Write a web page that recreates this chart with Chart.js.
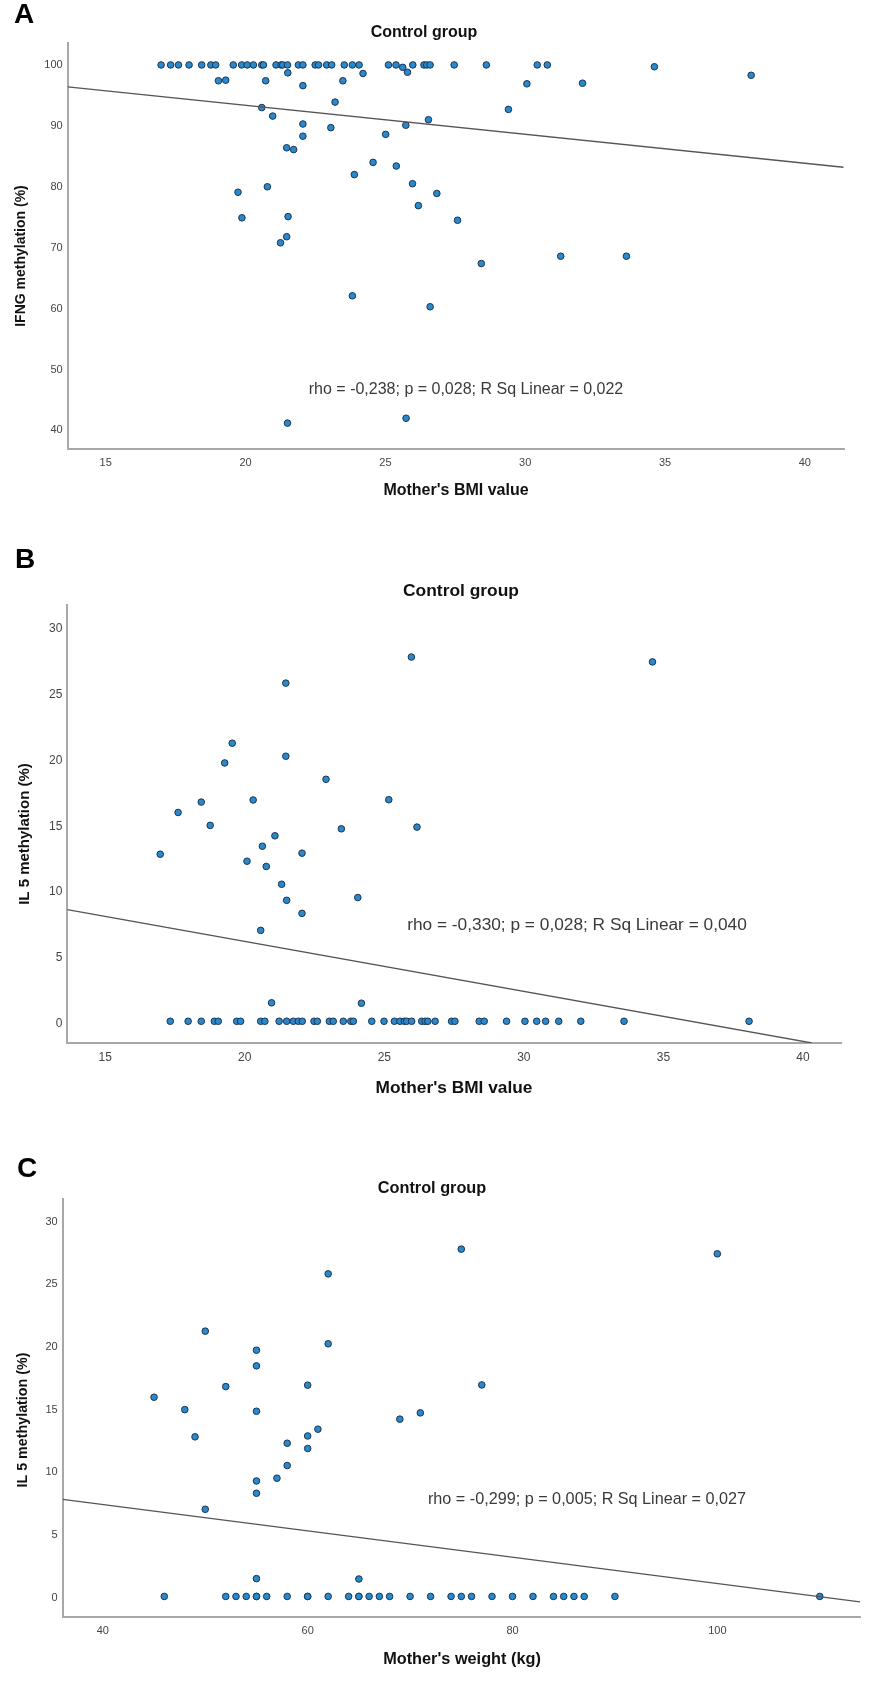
<!DOCTYPE html>
<html lang="en">

<head>
  <meta charset="UTF-8">
  <title>Control group - methylation vs mother's BMI / weight</title>
  <style>
    body {
      margin: 0;
      background: #ffffff;
      font-family: "Liberation Sans", Arial, sans-serif;
    }

    .panel {
      position: absolute;
      left: 0;
      width: 886px;
    }

    #panelA { top: 0; height: 520px; }
    #panelB { top: 520px; height: 580px; }
    #panelC { top: 1100px; height: 581px; }
  </style>
  <script src="https://cdn.jsdelivr.net/npm/chart.js"></script>
</head>

<body>
  <div class="panel" id="panelA"><canvas id="chartA"></canvas></div>
  <div class="panel" id="panelB"><canvas id="chartB"></canvas></div>
  <div class="panel" id="panelC"><canvas id="chartC"></canvas></div>

  <script>
    // ---- Panel A: IFNG methylation vs mother's BMI ----
    const bmiA = [
      16.98, 17.32, 17.60, 17.98, 18.43, 18.76, 18.93, 19.56, 19.86, 20.06, 20.28, 20.58,
      20.64, 21.09, 21.27, 21.33, 21.50, 21.89, 22.05, 22.49, 22.61, 22.90, 23.08, 23.53,
      23.82, 24.06, 25.11, 25.38, 25.98, 26.38, 26.48, 26.60, 27.46, 28.61, 30.43, 30.79,
      19.03, 19.29, 20.72, 21.51, 22.05, 23.20, 23.48, 24.20, 25.62, 25.79,
      20.58, 20.97, 22.05, 22.05, 23.05, 21.47, 21.72, 24.56, 23.89, 25.01, 25.39, 25.73,
      26.54, 25.97, 26.18, 26.84, 19.73, 20.78, 19.87, 21.52, 21.47, 21.25,
      29.40, 30.06, 32.05, 27.58, 34.62, 38.08, 23.82, 26.60, 28.43, 31.27, 33.62, 21.50, 25.74
    ];
    const ifngA = [
      100, 100, 100, 100, 100, 100, 100, 100, 100, 100, 100, 100,
      100, 100, 100, 100, 100, 100, 100, 100, 100, 100, 100, 100,
      100, 100, 100, 100, 100, 100, 100, 100, 100, 100, 100, 100,
      97.4, 97.5, 97.4, 98.7, 96.6, 93.9, 97.4, 98.6, 99.6, 98.8,
      93.0, 91.6, 90.3, 88.3, 89.7, 86.4, 86.1, 84.0, 82.0, 88.6, 83.4, 90.1,
      91.0, 80.5, 76.9, 78.9, 79.1, 80.0, 74.9, 75.1, 71.8, 70.8,
      92.7, 96.9, 97.0, 74.5, 99.7, 98.3, 62.1, 60.3, 67.4, 68.6, 68.6, 41.2, 42.0
    ];
    const fitBmiA = [13.64, 41.38];
    const fitIfngA = [96.4, 83.2];
    const bmiTicks = [15, 20, 25, 30, 35, 40];
    const ifngTicks = [40, 50, 60, 70, 80, 90, 100];

    // ---- Panel B: IL 5 methylation vs mother's BMI ----
    const bmiB = [
      25.97, 21.47, 19.55, 19.28, 21.47, 22.91, 25.16, 18.44, 20.30, 16.97, 17.61, 18.76,
      20.08, 20.63, 20.77, 21.08, 21.32, 21.50, 22.05, 22.05, 20.57, 23.46, 24.05, 26.17,
      20.96, 24.18, 34.61,
      17.33, 17.97, 18.44, 18.91, 19.05, 19.71, 19.85, 20.57, 20.72, 21.23, 21.50, 21.74,
      21.92, 22.06, 22.48, 22.60, 23.03, 23.17, 23.53, 23.80, 23.89, 24.55, 24.99, 25.36,
      25.56, 25.72, 25.80, 25.98, 26.34, 26.46, 26.56, 26.82, 27.41, 27.53, 28.40, 28.58,
      29.38, 30.04, 30.46, 30.78, 31.25, 32.04, 33.59, 38.07
    ];
    const il5B = [
      27.85, 25.87, 21.31, 19.81, 20.32, 18.57, 17.02, 16.84, 17.0, 12.88, 16.05, 15.07,
      12.35, 13.49, 11.95, 14.28, 10.6, 9.38, 12.96, 8.39, 7.1, 14.81, 9.59, 14.94,
      1.6, 1.57, 27.48,
      0.2, 0.2, 0.2, 0.2, 0.2, 0.2, 0.2, 0.2, 0.2, 0.2, 0.2, 0.2,
      0.2, 0.2, 0.2, 0.2, 0.2, 0.2, 0.2, 0.2, 0.2, 0.2, 0.2, 0.2,
      0.2, 0.2, 0.2, 0.2, 0.2, 0.2, 0.2, 0.2, 0.2, 0.2, 0.2, 0.2,
      0.2, 0.2, 0.2, 0.2, 0.2, 0.2, 0.2, 0.2
    ];
    const fitBmiB = [13.64, 40.32];
    const fitIl5B = [8.68, -1.45];
    const il5Ticks = [0, 5, 10, 15, 20, 25, 30];

    // ---- Panel C: IL 5 methylation vs mother's weight ----
    const weightC = [
      62, 50, 55, 55, 62, 52, 60, 75, 100, 77, 69, 71, 45, 48, 49, 55, 61, 60, 60, 58, 58,
      57, 55, 55, 50, 55, 65,
      46, 52, 53, 54, 55, 55, 56, 58, 60, 60, 62, 64, 65, 65, 66, 67, 68, 70, 72, 74, 75,
      76, 78, 80, 82, 84, 85, 86, 87, 90, 110
    ];
    const il5C = [
      25.83, 21.26, 19.74, 18.49, 20.25, 16.84, 16.95, 27.8, 27.43, 16.97, 14.24, 14.74,
      15.99, 15.0, 12.83, 14.87, 13.44, 12.9, 11.9, 12.32, 10.54, 9.53, 9.31, 8.33, 7.05,
      1.52, 1.49,
      0.1, 0.1, 0.1, 0.1, 0.1, 0.1, 0.1, 0.1, 0.1, 0.1, 0.1, 0.1, 0.1, 0.1, 0.1, 0.1, 0.1,
      0.1, 0.1, 0.1, 0.1, 0.1, 0.1, 0.1, 0.1, 0.1, 0.1, 0.1, 0.1, 0.1, 0.1, 0.1
    ];
    const fitWeightC = [36.08, 113.93];
    const fitIl5C = [7.85, -0.34];
    const weightTicks = [40, 60, 80, 100];

    const FONT = '"Liberation Sans", Arial, sans-serif';

    function toPoints(xs, ys) {
      return xs.map((x, i) => ({ x: x, y: ys[i] }));
    }

    // draws panel letter, titles and the stats note
    function textPlugin(items) {
      return {
        id: 'panelText',
        afterDraw(chart) {
          const ctx = chart.ctx;
          ctx.save();
          ctx.textBaseline = 'middle';
          items.forEach(t => {
            ctx.font = t.font;
            ctx.fillStyle = t.color || '#111';
            ctx.textAlign = t.align || 'center';
            if (t.rotate) {
              ctx.save();
              ctx.translate(t.x, t.y);
              ctx.rotate(-Math.PI / 2);
              ctx.fillText(t.text, 0, 0);
              ctx.restore();
            } else {
              ctx.fillText(t.text, t.x, t.y);
            }
          });
          ctx.restore();
        }
      };
    }

    function axis(min, max, ticks, fontSize, tickPad, fit) {
      return {
        type: 'linear',
        min: min,
        max: max,
        grid: { display: false, drawTicks: false },
        border: { display: true, color: '#a8a8a8', width: 2 },
        ticks: {
          color: '#444',
          font: { family: FONT, size: fontSize },
          padding: tickPad
        },
        afterBuildTicks: s => { s.ticks = ticks.map(v => ({ value: v })); },
        afterFit: fit
      };
    }

    function createPanel(id, p) {
      return new Chart(document.getElementById(id), {
        type: 'scatter',
        data: {
          datasets: [
            {
              data: toPoints(p.fitX, p.fitY),
              showLine: true,
              borderColor: '#555555',
              borderWidth: 1.3,
              pointRadius: 0,
              pointHoverRadius: 0
            },
            {
              data: toPoints(p.xs, p.ys),
              pointRadius: 3.3,
              pointHoverRadius: 3.3,
              pointBorderWidth: 1,
              backgroundColor: '#2a88cc',
              borderColor: '#1b3550'
            }
          ]
        },
        options: {
          responsive: true,
          maintainAspectRatio: false,
          animation: false,
          layout: { padding: p.padding },
          plugins: {
            legend: { display: false },
            tooltip: { enabled: false }
          },
          scales: {
            x: axis(p.xMin, p.xMax, p.xTicks, p.tickSize, 7, s => { s.height = 30; }),
            y: axis(p.yMin, p.yMax, p.yTicks, p.tickSize, 5, s => { s.width = 60; })
          }
        },
        plugins: [textPlugin(p.texts)]
      });
    }

    createPanel('chartA', {
      xs: bmiA, ys: ifngA, fitX: fitBmiA, fitY: fitIfngA,
      xMin: 13.64, xMax: 41.4, yMin: 36.9, yMax: 103.6,
      xTicks: bmiTicks, yTicks: ifngTicks, tickSize: 11,
      padding: { left: 7.7, top: 43, right: 42, bottom: 40.7 },
      texts: [
        { text: 'A', font: 'bold 28px ' + FONT, x: 14, y: 15, align: 'left', color: '#000' },
        { text: 'Control group', font: 'bold 16px ' + FONT, x: 424, y: 33 },
        { text: "Mother's BMI value", font: 'bold 16px ' + FONT, x: 456, y: 491 },
        { text: 'IFNG methylation (%)', font: 'bold 14px ' + FONT, x: 21, y: 256, rotate: true },
        { text: 'rho = -0,238; p = 0,028; R Sq Linear = 0,022', font: '16px ' + FONT, x: 466, y: 390, color: '#3a3a3a' }
      ]
    });

    createPanel('chartB', {
      xs: bmiB, ys: il5B, fitX: fitBmiB, fitY: fitIl5B,
      xMin: 13.64, xMax: 41.39, yMin: -1.45, yMax: 31.8,
      xTicks: bmiTicks, yTicks: il5Ticks, tickSize: 12,
      padding: { left: 7.3, top: 85, right: 44.3, bottom: 27 },
      texts: [
        { text: 'B', font: 'bold 28px ' + FONT, x: 15, y: 40, align: 'left', color: '#000' },
        { text: 'Control group', font: 'bold 17.4px ' + FONT, x: 461, y: 71 },
        { text: "Mother's BMI value", font: 'bold 17.3px ' + FONT, x: 454, y: 568 },
        { text: 'IL 5 methylation (%)', font: 'bold 15px ' + FONT, x: 25, y: 314, rotate: true },
        { text: 'rho = -0,330; p = 0,028; R Sq Linear = 0,040', font: '17.3px ' + FONT, x: 577, y: 405.6, color: '#3a3a3a' }
      ]
    });

    createPanel('chartC', {
      xs: weightC, ys: il5C, fitX: fitWeightC, fitY: fitIl5C,
      xMin: 36.08, xMax: 113.93, yMin: -1.54, yMax: 31.8,
      xTicks: weightTicks, yTicks: il5Ticks, tickSize: 11,
      padding: { left: 2.7, top: 99, right: 26, bottom: 34 },
      texts: [
        { text: 'C', font: 'bold 28px ' + FONT, x: 17, y: 69, align: 'left', color: '#000' },
        { text: 'Control group', font: 'bold 16.3px ' + FONT, x: 432, y: 89 },
        { text: "Mother's weight (kg)", font: 'bold 16.3px ' + FONT, x: 462, y: 560 },
        { text: 'IL 5 methylation (%)', font: 'bold 14.3px ' + FONT, x: 23, y: 320, rotate: true },
        { text: 'rho = -0,299; p = 0,005; R Sq Linear = 0,027', font: '16.2px ' + FONT, x: 587, y: 399.5, color: '#3a3a3a' }
      ]
    });
  </script>
</body>

</html>
